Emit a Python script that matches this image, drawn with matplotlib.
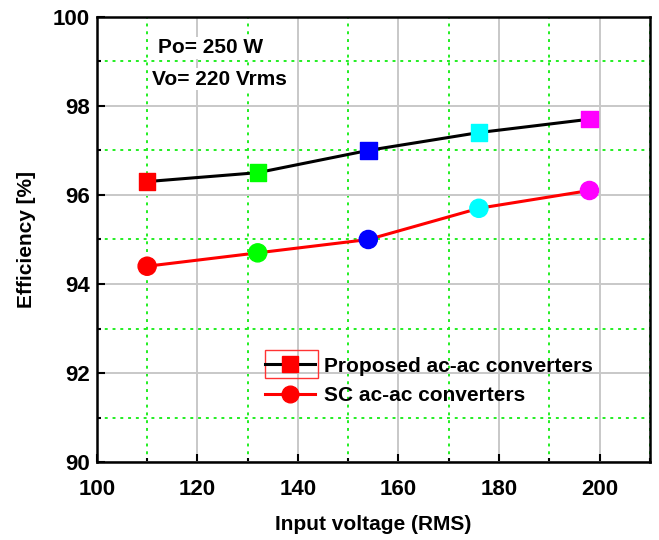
import matplotlib
matplotlib.use("Agg")
import matplotlib.pyplot as plt
from matplotlib.patches import Rectangle
from matplotlib.ticker import MultipleLocator

plt.rcParams["font.family"] = ["Liberation Sans", "DejaVu Sans"]
plt.rcParams["font.weight"] = "bold"

# data
input_voltage = [110, 132, 154, 176, 198]
eff_proposed = [96.3, 96.5, 97.0, 97.4, 97.7]
eff_sc = [94.4, 94.7, 95.0, 95.7, 96.1]
point_colors = ["#ff0000", "#00ff00", "#0000ff", "#00ffff", "#ff00ff"]

fig = plt.figure(figsize=(6.59, 5.40), dpi=100)
ax = fig.add_axes([0.147, 0.144, 0.839, 0.825])

# grids: gray major, green dotted minor
ax.xaxis.set_major_locator(MultipleLocator(20))
ax.xaxis.set_minor_locator(MultipleLocator(10))
ax.yaxis.set_major_locator(MultipleLocator(2))
ax.yaxis.set_minor_locator(MultipleLocator(1))
ax.grid(True, which="major", color="#c8c8c8", linewidth=1.4, linestyle="-", zorder=0)
ax.grid(True, which="minor", color="#22ee22", linewidth=1.4, linestyle=(0, (1.5, 2.5)), zorder=0)
ax.set_axisbelow(True)

# lines
ax.plot(input_voltage, eff_proposed, color="black", linewidth=2.2, zorder=3)
ax.plot(input_voltage, eff_sc, color="#ff0000", linewidth=2.2, zorder=3)
ax.scatter(input_voltage, eff_proposed, marker="s", s=140, c=point_colors, zorder=4)
ax.scatter(input_voltage, eff_sc, marker="o", s=170, c=point_colors, zorder=4)

# legend proxies
h1, = ax.plot([], [], color="black", linewidth=2.2, marker="s", markersize=11,
              markerfacecolor="#ff0000", markeredgecolor="#ff0000")
h2, = ax.plot([], [], color="#ff0000", linewidth=2.2, marker="o", markersize=12,
              markerfacecolor="#ff0000", markeredgecolor="#ff0000")
leg = ax.legend([h1, h2], ["Proposed ac-ac converters", "SC ac-ac converters"],
                loc="upper left", bbox_to_anchor=(0.304, 0.237), frameon=False,
                fontsize=15, handlelength=2.4, handletextpad=0.45, labelspacing=0.5,
                borderaxespad=0, borderpad=0)

# red selection box around first legend handle
ax.add_patch(Rectangle((0.304, 0.189), 0.096, 0.063, transform=ax.transAxes,
                       fill=False, edgecolor="#ff3333", linewidth=1.0, zorder=5))

ax.text(0.110, 0.930, "Po= 250 W", transform=ax.transAxes, fontsize=15,
        fontweight="bold", va="center", ha="left",
        bbox=dict(facecolor="white", edgecolor="none", pad=1))
ax.text(0.0995, 0.860, "Vo= 220 Vrms", transform=ax.transAxes, fontsize=15,
        fontweight="bold", va="center", ha="left",
        bbox=dict(facecolor="white", edgecolor="none", pad=1))

ax.set_xlim(100, 210)
ax.set_ylim(90, 100)
ax.set_xlabel("Input voltage (RMS)", fontsize=15, fontweight="bold", labelpad=11)
ax.set_ylabel("Efficiency [%]", fontsize=15, fontweight="bold", labelpad=12)

ax.tick_params(which="both", direction="in", labelsize=16, width=1.5, color="black")
ax.tick_params(which="major", length=6)
ax.tick_params(which="minor", length=3)
ax.tick_params(axis="x", pad=12)
ax.tick_params(axis="y", pad=5)
for lbl in ax.get_xticklabels() + ax.get_yticklabels():
    lbl.set_fontweight("bold")
for sp in ax.spines.values():
    sp.set_linewidth(1.8)

fig.savefig("out.png", dpi=100)
